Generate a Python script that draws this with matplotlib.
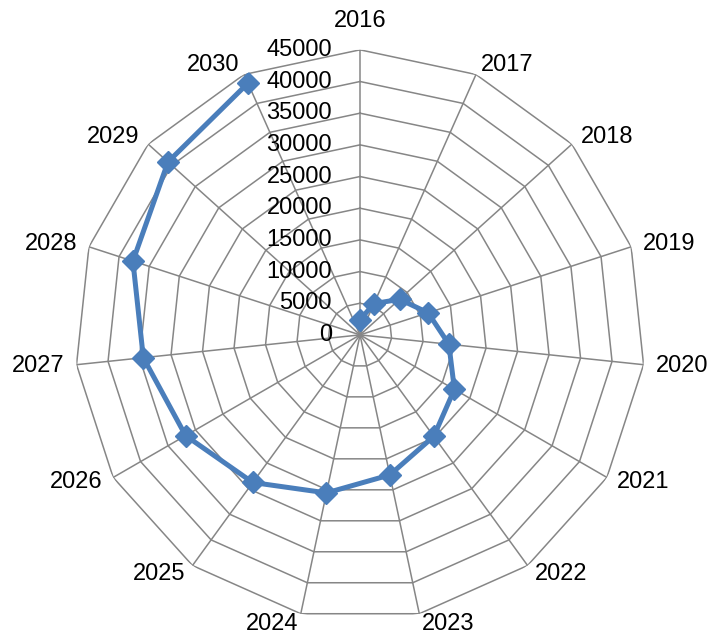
import numpy as np
import matplotlib
matplotlib.use("Agg")
import matplotlib.pyplot as plt

plt.rcParams['font.family'] = ['Liberation Sans', 'DejaVu Sans']

# data
years = ['2016', '2017', '2018', '2019', '2020', '2021', '2022', '2023',
         '2024', '2025', '2026', '2027', '2028', '2029', '2030']
values = [2400, 5400, 8400, 11300, 14100, 17200, 19800, 22600,
          25500, 28800, 31800, 34400, 37700, 40800, 43500]
rticks = [0, 5000, 10000, 15000, 20000, 25000, 30000, 35000, 40000, 45000]

grid_col = '#868686'
line_col = '#4A7EBB'

n = len(years)
theta = np.arange(n) * 2 * np.pi / n

fig = plt.figure(figsize=(7.1, 6.35), dpi=100)
ax = fig.add_axes([0.1056, 0.0236, 0.803, 0.898], projection='polar')
ax.set_theta_zero_location('N')
ax.set_theta_direction(-1)
ax.set_ylim(0, rticks[-1])
ax.grid(False)
ax.spines['polar'].set_visible(False)
ax.set_xticks([])
ax.set_yticks([])
ax.patch.set_alpha(0)

# polygon grid
tt = np.append(theta, theta[0])
for r in rticks[1:]:
    ax.plot(tt, [r] * len(tt), color=grid_col, lw=1.1, zorder=1)
for t in theta:
    ax.plot([t, t], [0, rticks[-1]], color=grid_col, lw=1.1, zorder=1)

# series
ax.plot(theta, values, color=line_col, lw=3.6,
        marker='D', markersize=11, zorder=3)

# radial labels
for r in rticks:
    ax.annotate(str(r), xy=(0, r), xytext=(-28, 0), textcoords='offset pixels',
                ha='right', va='center', fontsize=17)

# category labels, anchored at the outer vertices
for t, lab in zip(theta, years):
    s, c = np.sin(t), np.cos(t)
    if abs(s) < 0.05:
        ha, off = 'center', (0, 29 if c > 0 else -29)
    else:
        ha = 'left' if s > 0 else 'right'
        off = (12 * s, 10 * c)
    ax.annotate(lab, xy=(t, rticks[-1]), xytext=off, textcoords='offset pixels',
                ha=ha, va='center', fontsize=17, annotation_clip=False)

fig.savefig('out.png', dpi=100)
